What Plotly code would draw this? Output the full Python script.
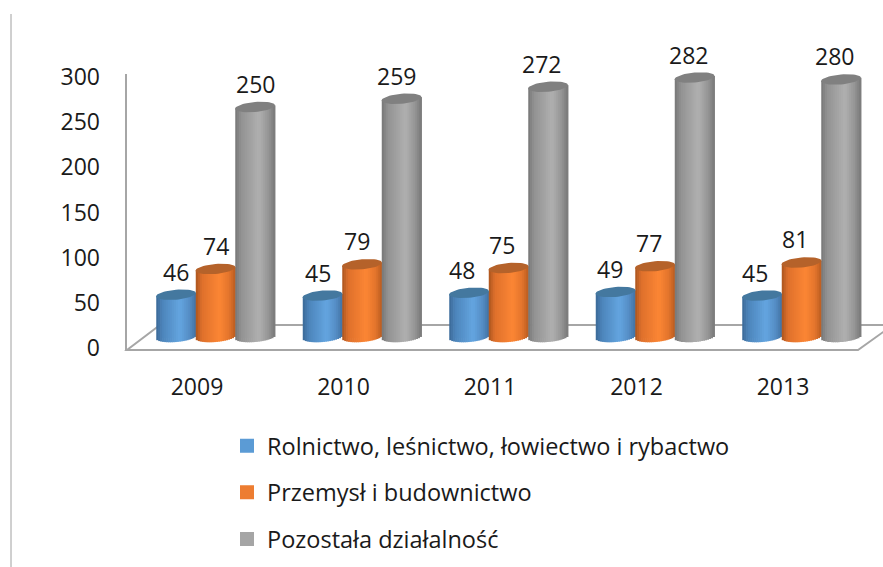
import math
import plotly.graph_objects as go

years = ["2009", "2010", "2011", "2012", "2013"]
rolnictwo = [46, 45, 48, 49, 45]
przemysl = [74, 79, 75, 77, 81]
pozostala = [250, 259, 272, 282, 280]
series_names = ["Rolnictwo, leśnictwo, łowiectwo i rybactwo", "Przemysł i budownictwo", "Pozostała działalność"]
tick_values = [0, 50, 100, 150, 200, 250, 300]

W, H = 883, 567
PX_X = 146.5      # px per category
PX_Y = 0.92       # px per value unit
X0, Y0 = 215, 337 # pixel of first group's centre / value zero
TICK_PX_Y = 271 / 300  # tick labels sit on the front plane, at their own scale
TICK_Y0 = 348
BAR_PX = 39.5
CAP_B, TILT = 5.0, 1.7
N_STRIPS = 20
FONT = "Open Sans"
FS = 23
LEGEND_FS = 23.5
INK = "#1a1a1a"

styles = [
    dict(values=rolnictwo, base="#5b9bd5", cap="#44789f", off=-39,
         stops=[(0, (58, 104, 150)), (.15, (76, 132, 186)), (.6, (100, 165, 224)), (.85, (84, 140, 196)), (1, (66, 114, 162))]),
    dict(values=przemysl, base="#ed7d31", cap="#b5622a", off=0.5,
         stops=[(0, (170, 84, 30)), (.15, (222, 112, 44)), (.6, (252, 134, 52)), (.85, (226, 116, 44)), (1, (186, 92, 32))]),
    dict(values=pozostala, base="#a5a5a5", cap="#808080", off=40,
         stops=[(0, (118, 118, 118)), (.15, (146, 146, 146)), (.6, (176, 176, 176)), (.85, (148, 148, 148)), (1, (120, 120, 120))]),
]
label_dx = [0, -5, -7, -6, -7]


def shade(t):
    for (a, ca), (b, cb) in zip(stops, stops[1:]):
        if a <= t <= b:
            k = (t - a) / (b - a)
            return "rgb(%d,%d,%d)" % tuple(round(p + (q - p) * k) for p, q in zip(ca, cb))
    return "rgb(0,0,0)"


fig = go.Figure()
xs = list(range(len(years)))
for s, name in zip(styles, series_names):
    stops = s["stops"]
    off = s["off"] / PX_X
    # full-colour core carries the series and its legend entry
    fig.add_trace(go.Bar(x=xs, y=s["values"], name=name, width=28 / PX_X, offset=[off - 14 / PX_X] * 5,
                         marker=dict(color=s["base"], line=dict(color=s["base"], width=2)),
                         legendgroup=name, hoverinfo="skip"))
    # vertical strips give the cylinder its shading and rounded base
    step = BAR_PX / N_STRIPS
    for k in range(N_STRIPS):
        t = (k + 0.5) / N_STRIPS
        u = 2 * t - 1
        low = (TILT * u - CAP_B * math.sqrt(1 - u * u)) / PX_Y
        mid = TILT * u / PX_Y
        left = (s["off"] - BAR_PX / 2 + k * step) / PX_X
        fig.add_trace(go.Bar(x=xs, y=[v + mid - low for v in s["values"]], base=[low] * 5,
                             width=(step + 0.7) / PX_X, offset=[left] * 5,
                             marker=dict(color=shade(t), line=dict(width=0)),
                             showlegend=False, hoverinfo="skip"))
    # elliptical top of each cylinder
    cx, cy = [], []
    for i, v in enumerate(s["values"]):
        for a in range(0, 49):
            th = 2 * math.pi * a / 48
            u = math.cos(th)
            cx.append(i + (s["off"] + u * (BAR_PX / 2 + 0.2)) / PX_X)
            cy.append(v + (TILT * u + CAP_B * math.sin(th)) / PX_Y)
        cx.append(None)
        cy.append(None)
    fig.add_trace(go.Scatter(x=cx, y=cy, mode="lines", fill="toself", fillcolor=s["cap"],
                             line=dict(width=0, color=s["cap"]), showlegend=False, hoverinfo="skip"))
    # data labels
    for i, v in enumerate(s["values"]):
        fig.add_annotation(x=i + s["off"] / PX_X, y=v, text=str(v), showarrow=False,
                           xshift=label_dx[i], yshift=23,
                           font=dict(family=FONT, size=FS, color=INK))


def px(x):
    return x / W


def py(y):
    return 1 - y / H


line = "#a6a6a6"
floor = "M %f,%f L %f,%f L %f,%f L %f,%f Z" % (px(127), py(350), px(858), py(350), px(893), py(325), px(160), py(325))
shapes = [
    dict(type="path", path=floor, xref="paper", yref="paper", fillcolor="white",
         line=dict(color=line, width=2), layer="below"),
    dict(type="line", x0=px(126), x1=px(126), y0=py(350), y1=py(74), xref="paper", yref="paper",
         line=dict(color=line, width=2), layer="below"),
    dict(type="line", x0=px(11), x1=px(11), y0=py(14), y1=py(567), xref="paper", yref="paper",
         line=dict(color="#a0a0a0", width=1), layer="below"),
]

fig.update_layout(
    width=W, height=H, margin=dict(l=0, r=0, t=0, b=0, autoexpand=False),
    paper_bgcolor="white", plot_bgcolor="white", barmode="overlay",
    font=dict(family=FONT, size=FS, color=INK), shapes=shapes,
    xaxis=dict(range=[(0 - X0) / PX_X, (W - X0) / PX_X], domain=[0, 1], showgrid=False, zeroline=False,
               showline=False, ticks="", tickmode="array",
               tickvals=[i - 18 / PX_X for i in xs], ticktext=years,
               anchor="free", position=py(371), tickfont=dict(family=FONT, size=FS, color=INK)),
    yaxis=dict(range=[(Y0 - H) / PX_Y, Y0 / PX_Y], domain=[0, 1], visible=False),
    yaxis2=dict(range=[(TICK_Y0 - H) / TICK_PX_Y, TICK_Y0 / TICK_PX_Y], overlaying="y", anchor="free",
                position=px(100), side="left", showgrid=False, zeroline=False, showline=False, ticks="",
                tickmode="array", tickvals=tick_values, tickfont=dict(family=FONT, size=FS, color=INK)),
    legend=dict(x=px(227), xanchor="left", y=py(424), yanchor="top", tracegroupgap=13,
                font=dict(family=FONT, size=LEGEND_FS, color=INK), bgcolor="rgba(0,0,0,0)"),
)
# invisible trace keeps the tick-label axis active
fig.add_trace(go.Scatter(x=[0], y=[0], yaxis="y2", mode="markers", marker=dict(opacity=0),
                         showlegend=False, hoverinfo="skip"))
fig.write_html("out.html", post_script="document.body.style.margin='0';", config=dict(displayModeBar=False))
